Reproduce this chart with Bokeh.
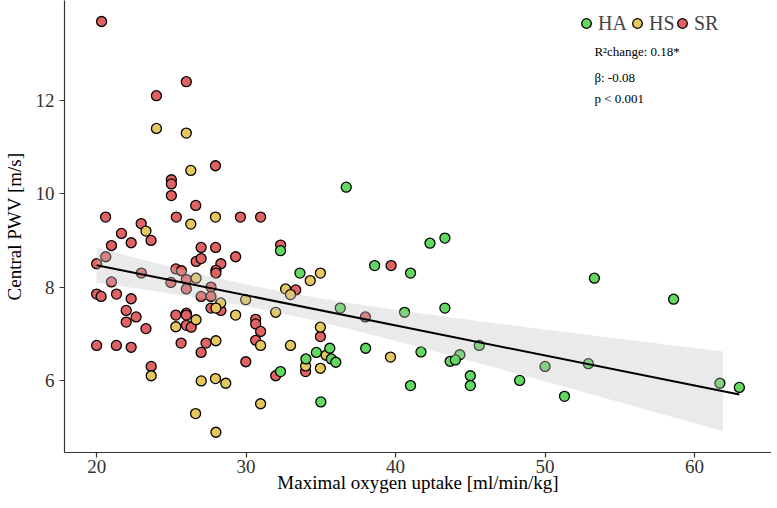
import numpy as np
from bokeh.plotting import figure
from bokeh.models import (Range1d, FixedTicker, Legend, LegendItem, Label)
from bokeh.embed import file_html
from bokeh.resources import INLINE

# ---- data -------------------------------------------------------------
ha_x = [32.3, 33.6, 38.6, 36.3, 40.6, 38.0, 35.6, 34.7, 35.7, 36.0, 34.0, 32.3,
        35.0, 42.3, 43.3, 41.0, 43.3, 45.6, 44.3, 43.65, 44.0, 41.7, 41.0, 45.0,
        45.0, 48.3, 50.0, 51.3, 52.9, 36.7, 53.3, 58.6, 61.7, 63.0]
ha_y = [8.78, 8.30, 8.46, 7.55, 7.46, 6.69, 6.69, 6.60, 6.46, 6.39, 6.46, 6.19,
        5.54, 8.94, 9.05, 8.30, 7.55, 6.75, 6.55, 6.41, 6.44, 6.61, 5.89, 6.10,
        5.89, 6.00, 6.30, 5.66, 6.36, 10.14, 8.19, 7.74, 5.94, 5.85]

hs_x = [24.0, 26.0, 26.3, 27.95, 26.3, 23.3, 26.65, 28.3, 27.98, 29.3, 29.97,
        26.65, 25.3, 27.98, 23.65, 27.0, 27.95, 28.64, 26.62, 27.98, 30.97, 30.97,
        34.97, 34.29, 32.64, 32.97, 31.98, 32.97, 34.97, 39.66, 35.35, 33.98, 34.97]
hs_y = [11.40, 11.30, 10.50, 9.50, 9.35, 9.20, 8.19, 7.66, 7.55, 7.40, 7.73,
        7.30, 7.15, 6.85, 6.10, 5.99, 6.04, 5.94, 5.29, 4.89, 5.50, 6.75,
        8.30, 8.14, 7.96, 7.84, 7.46, 6.75, 7.14, 6.50, 6.54, 6.31, 6.26]

sr_x = [20.33, 26.0, 24.0, 27.95, 25.0, 25.0, 25.0, 26.63, 20.6, 25.33, 29.62,
        30.97, 22.98, 21.66, 23.64, 22.31, 20.99, 26.99, 27.96, 29.3, 20.61, 20.0,
        26.66, 26.99, 28.31, 27.98, 27.98, 25.3, 25.67, 22.99, 26.0, 24.97, 20.99,
        27.65, 26.0, 20.0, 20.3, 21.33, 22.31, 26.99, 27.65, 27.65, 28.31, 21.98,
        22.64, 21.98, 23.3, 25.3, 26.0, 26.0, 26.0, 26.33, 20.0, 21.32, 22.31,
        25.65, 27.32, 26.99, 23.65, 29.98, 30.64, 30.64, 30.97, 30.64, 32.31,
        33.32, 39.7, 37.98, 34.97, 33.98, 31.98]
sr_y = [13.69, 12.40, 12.10, 10.60, 10.30, 10.21, 9.96, 9.75, 9.50, 9.50, 9.50,
        9.50, 9.36, 9.15, 9.00, 8.95, 8.89, 8.85, 8.85, 8.65, 8.65, 8.50,
        8.55, 8.61, 8.50, 8.36, 8.30, 8.39, 8.35, 8.30, 8.16, 8.10, 8.11,
        8.00, 7.96, 7.85, 7.80, 7.85, 7.75, 7.80, 7.80, 7.55, 7.50, 7.50,
        7.36, 7.25, 7.11, 7.40, 7.44, 7.40, 7.18, 7.14, 6.75, 6.75, 6.71,
        6.80, 6.80, 6.60, 6.30, 6.40, 7.31, 7.21, 7.05, 6.86, 8.90,
        7.94, 8.46, 7.36, 6.94, 6.19, 6.10]

groups = ["HA", "HS", "SR"]
colors = {"HA": "#63D963", "HS": "#E6C75F", "SR": "#E06262"}
x_ticks = [20, 30, 40, 50, 60]
y_ticks = [6, 8, 10, 12]
band_x_end = 61.9          # ribbon stops here in the reference
annot = ["R\u00b2change: 0.18*", "\u03b2: -0.08", "p < 0.001"]

# ---- linear fit with 95% confidence band ------------------------------
xs = np.array(ha_x + hs_x + sr_x)
ys = np.array(ha_y + hs_y + sr_y)
n = len(xs)
slope, icpt = np.polyfit(xs, ys, 1)
res = ys - (icpt + slope * xs)
s = np.sqrt(np.sum(res ** 2) / (n - 2))
xbar = xs.mean()
sxx = np.sum((xs - xbar) ** 2)
tq = 1.977
bx = np.linspace(xs.min(), band_x_end, 120)
by = icpt + slope * bx
bh = tq * s * np.sqrt(1.0 / n + (bx - xbar) ** 2 / sxx)
lx = np.array([xs.min(), xs.max()])
ly = icpt + slope * lx

# ---- figure -----------------------------------------------------------
SERIF = "Liberation Serif"
p = figure(width=761, height=492, frame_width=707, frame_height=452,
           min_border_left=54, min_border_right=0, min_border_top=0,
           min_border_bottom=40,
           x_range=Range1d(17.85, 65.15), y_range=Range1d(4.456, 14.14),
           output_backend="svg", toolbar_location=None)
p.grid.visible = False
p.outline_line_color = None
p.background_fill_color = "white"
p.border_fill_color = "white"

for ax in (p.xaxis[0], p.yaxis[0]):
    ax.axis_line_color = "#333333"
    ax.axis_line_width = 1.2
    ax.major_tick_line_color = "#333333"
    ax.major_tick_line_width = 1.2
    ax.major_tick_out = 5
    ax.major_tick_in = 0
    ax.minor_tick_out = 0
    ax.minor_tick_in = 0
    ax.major_label_text_font = SERIF
    ax.major_label_text_font_size = "19px"
    ax.major_label_text_color = "#333333"
    ax.axis_label_text_font = SERIF
    ax.axis_label_text_font_size = "19px"
    ax.axis_label_text_font_style = "normal"
    ax.axis_label_text_color = "black"

p.xaxis.ticker = FixedTicker(ticks=x_ticks)
p.yaxis.ticker = FixedTicker(ticks=y_ticks)
p.xaxis.axis_label = "Maximal oxygen uptake [ml/min/kg]"
p.yaxis.axis_label = "Central PWV [m/s]"
p.xaxis.major_label_standoff = 2
p.yaxis.major_label_standoff = 5
p.xaxis.axis_label_standoff = -4
p.yaxis.axis_label_standoff = 8

data = {"HA": (ha_x, ha_y), "HS": (hs_x, hs_y), "SR": (sr_x, sr_y)}
rends = {}
for g in ["SR", "HS", "HA"]:
    gx, gy = data[g]
    rends[g] = p.scatter(gx, gy, size=10, fill_color=colors[g],
                         line_color="black", line_width=1.3)

p.varea(x=bx, y1=by - bh, y2=by + bh, fill_color="#C4C4C4", fill_alpha=0.35)
p.line(lx, ly, line_color="black", line_width=2)

# legends (one per group for exact placement)
leg_left = [510, 561, 606]
for g, lx0 in zip(groups, leg_left):
    leg = Legend(items=[LegendItem(label=g, renderers=[rends[g]])],
                 location=(lx0, 416), orientation="horizontal",
                 glyph_width=24, glyph_height=26, label_height=26,
                 label_standoff=0, padding=0, margin=0, spacing=0,
                 border_line_color=None, background_fill_alpha=0,
                 label_text_font=SERIF, label_text_font_size="20px",
                 label_text_baseline="middle")
    p.add_layout(leg)

ann_y = [13.05, 12.48, 12.05]
for t, yy in zip(annot, ann_y):
    p.add_layout(Label(x=53.3, y=yy, text=t, text_font=SERIF,
                       text_font_size="13px", text_baseline="middle",
                       text_color="black"))

open("out.html", "w").write(file_html(p, INLINE))
